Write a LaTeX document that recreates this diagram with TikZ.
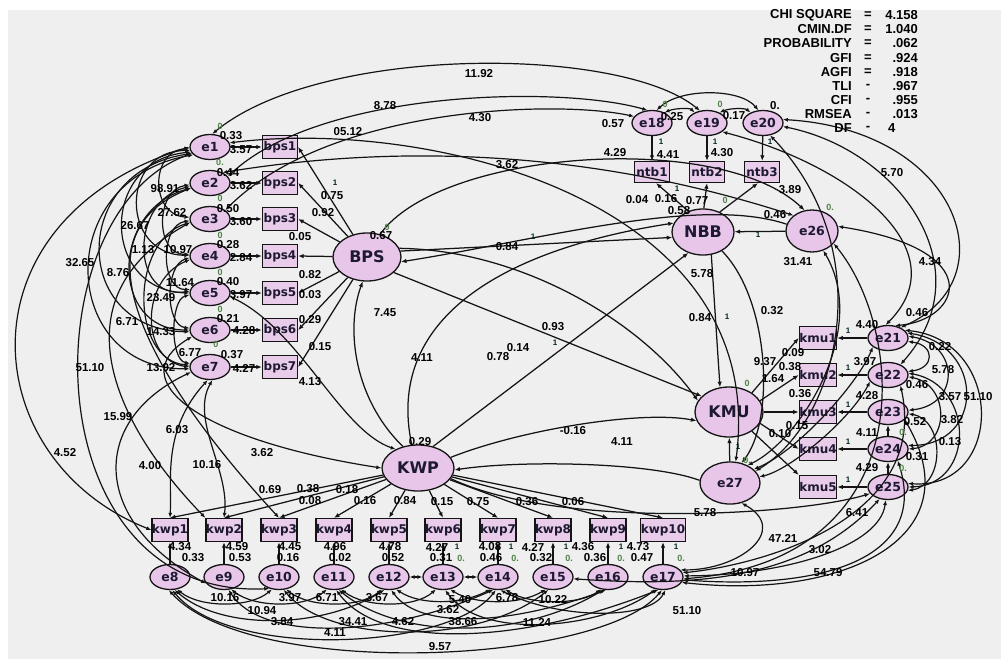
\documentclass[tikz,border=0pt]{standalone}
\usepackage{fontspec}
\setmainfont{Liberation Sans}
\newfontfamily\djv{DejaVu Sans}
\usetikzlibrary{shapes.geometric,arrows.meta}
\definecolor{bggray}{RGB}{239,239,239}
\definecolor{pinkfill}{RGB}{231,198,234}
\definecolor{boxpink}{RGB}{232,204,234}
\definecolor{inktext}{RGB}{30,25,50}
\definecolor{grn}{RGB}{80,130,70}
\definecolor{ln}{RGB}{20,20,20}
\begin{document}
\begin{tikzpicture}[x=1pt,y=-1pt,
  errn/.style={ellipse,draw=ln,line width=1.3pt,fill=pinkfill,minimum width=40pt,minimum height=25pt,inner sep=0pt,font=\djv\bfseries\fontsize{12.5}{12.5}\selectfont,text=inktext},
  obsn/.style={rectangle,draw=ln,line width=1.3pt,fill=boxpink,minimum width=35pt,minimum height=23pt,inner sep=0pt,font=\djv\bfseries\fontsize{12}{12}\selectfont,text=inktext},
  latn/.style={ellipse,draw=ln,line width=1.3pt,fill=pinkfill,minimum width=68pt,minimum height=48pt,inner sep=0pt,font=\djv\bfseries\fontsize{16}{16}\selectfont,text=inktext},
  num/.style={font=\bfseries\fontsize{11.5}{11.5}\selectfont,text=black,inner sep=0pt},
  one/.style={font=\bfseries\fontsize{8}{8}\selectfont,text=black!70!teal,inner sep=0pt},
  zr/.style={font=\bfseries\fontsize{9}{9}\selectfont,text=grn,inner sep=0pt},
  stat/.style={font=\bfseries\fontsize{13}{13}\selectfont,inner sep=0pt},
  arr/.style={draw=ln,line width=1.25pt,-{Latex[length=5.5pt,width=4.5pt]}},
  cov/.style={draw=ln,line width=1.2pt,{Latex[length=5pt,width=4pt]}-{Latex[length=5pt,width=4pt]}}
]
\useasboundingbox (0,0) rectangle (1001,659);
\fill[white] (0,0) rectangle (1001,659);
\fill[bggray] (8,10) rectangle (1001,659);

% ---------- nodes ----------
\foreach \i/\y in {1/147,2/183,3/219,4/256,5/293,6/330,7/367}{
  \node[errn] (e\i) at (210,\y) {e\i};
  \node[obsn] (bps\i) at (280,\y) {bps\i};
}
\node[latn] (BPS) at (367,257) {BPS};
\node[errn] (e18) at (652,123) {e18};
\node[errn] (e19) at (707,123) {e19};
\node[errn] (e20) at (763,123) {e20};
\node[obsn,minimum height=21pt] (ntb1) at (652,172) {ntb1};
\node[obsn,minimum height=21pt] (ntb2) at (707,172) {ntb2};
\node[obsn,minimum height=21pt] (ntb3) at (762,172) {ntb3};
\node[latn,minimum width=62pt,minimum height=46pt] (NBB) at (703,232) {NBB};
\node[errn,minimum width=52pt,minimum height=42pt] (e26) at (812,231) {e26};
\node[latn,minimum height=50pt] (KMU) at (729,412) {KMU};
\node[errn,minimum width=60pt,minimum height=42pt] (e27) at (730,483) {e27};
\foreach \i/\y in {1/338,2/375,3/412,4/449,5/487}{
  \pgfmathtruncatemacro\j{\i+20}
  \node[obsn,minimum width=33pt] (kmu\i) at (818,\y) {kmu\i};
  \node[errn] (e\j) at (888,\y) {e\j};
}
\node[latn,minimum width=72pt,minimum height=46pt] (KWP) at (418,468) {KWP};
\foreach \i/\x in {1/170,2/224,3/279,4/334,5/389,6/443,7/498,8/553,9/608,10/663}{
  \pgfmathtruncatemacro\j{\i+7}
  \node[obsn] (kwp\i) at (\x,530) {kwp\i};
  \node[errn] (e\j) at (\x,577) {e\j};
}

% ---------- regression paths ----------
\foreach \i in {1,...,7}{
  \draw[arr] (e\i) -- (bps\i);
  \draw[arr] (BPS) -- (bps\i.east);
}
\draw[arr] (e18) -- (ntb1);
\draw[arr] (e19) -- (ntb2);
\draw[arr] (e20) -- (ntb3);
\draw[arr] (NBB.125) -- (ntb1.-70);
\draw[arr] (NBB.88) -- (ntb2.south);
\draw[arr] (NBB.50) -- (ntb3.-110);
\draw[arr] (e26) -- (NBB);
\draw[arr] (NBB.-70) -- (KMU.110);
\draw[arr] (e27) -- (KMU);
\foreach \i in {1,...,5}{
  \pgfmathtruncatemacro\j{\i+20}
  \draw[arr] (e\j) -- (kmu\i);
}
\draw[arr] (KMU.40) -- (kmu1.west);
\draw[arr] (KMU.20) -- (kmu2.west);
\draw[arr] (KMU.east) -- (kmu3.west);
\draw[arr] (KMU.-20) -- (kmu4.west);
\draw[arr] (KMU.-40) -- (kmu5.north west);
\foreach \i in {1,...,10}{
  \pgfmathtruncatemacro\j{\i+7}
  \draw[arr] (e\j) -- (kwp\i);
  \draw[arr] (KWP) -- (kwp\i.north);
}
\draw[arr] (BPS.10) -- (NBB.190);
\draw[arr] (e26.165) .. controls (700,195) and (540,240) .. (BPS.-8);
\draw[arr] (BPS.-30) -- (KMU.150);
\draw[arr] (KWP.55) -- (NBB.-125);
\draw[arr] (KWP.125) .. controls (355,400) and (345,330) .. (BPS.-100);
\draw[arr] (KWP.105) .. controls (385,320) and (500,250) .. (NBB.163);
\draw[arr] (BPS.60) .. controls (440,150) and (720,130) .. (e26.110);
\draw[arr] (BPS.15) .. controls (520,250) and (640,320) .. (KMU.160);
\draw[arr] (NBB.-45) .. controls (770,300) and (775,420) .. (e27.60);
\draw[arr] (KWP.18) .. controls (520,430) and (640,410) .. (KMU.195);
\draw[arr] (e27.175) .. controls (650,462) and (520,460) .. (KWP.-3);
\draw[arr] (KWP.-18) .. controls (560,530) and (800,515) .. (e25.200);
\draw[arr] (e24) -- (e23);
\draw[arr] (e25) -- (e24);

% ---------- top arcs ----------
\draw[cov] (e1.80) .. controls (320,45) and (620,45) .. (e19.120);
\draw[cov] (e2.20) .. controls (320,90) and (560,85) .. (e18.110);
\draw[cov] (e3.30) .. controls (330,105) and (560,100) .. (e18.160);
\draw[cov] (e1.12) .. controls (430,118) and (770,200) .. (e27.75);
\draw[cov] (e18.70) .. controls (680,88) and (740,88) .. (e20.110);
\draw[cov] (e18.40) .. controls (675,108) and (690,108) .. (e19.140);
\draw[cov] (e19.40) .. controls (730,108) and (745,108) .. (e20.140);
\draw[cov] (e2.40) .. controls (360,150) and (560,140) .. (e26.140);
\draw[cov] (e20.10) .. controls (960,130) and (1010,280) .. (e21.40);
\draw[cov] (e20.-10) .. controls (900,150) and (985,270) .. (e22.40);
\draw[cov] (e19.-30) .. controls (850,165) and (960,250) .. (e21.100);
\draw[cov] (e20.-60) .. controls (880,250) and (840,420) .. (e27.25);
\draw[cov] (e26.-60) .. controls (870,330) and (800,440) .. (e27.45);
\draw[cov] (e26.-30) .. controls (905,330) and (925,560) .. (e17.-5);
\draw[cov] (e26.10) .. controls (990,250) and (960,320) .. (e21.60);

% ---------- right arcs ----------
\draw[cov] (e21.-10) .. controls (935,345) and (935,368) .. (e22.10);
\draw[cov] (e21.5) .. controls (960,345) and (960,405) .. (e23.5);
\draw[cov] (e21.15) .. controls (985,345) and (985,445) .. (e24.10);
\draw[cov] (e21.25) .. controls (1005,340) and (1005,490) .. (e25.10);
\draw[cov] (e22.-5) .. controls (950,385) and (950,445) .. (e24.0);
\draw[cov] (e22.5) .. controls (975,385) and (975,485) .. (e25.0);
\draw[cov] (e23.-5) .. controls (945,420) and (945,485) .. (e25.-10);
\draw[cov] (e21.-150) .. controls (860,380) and (800,450) .. (e27.30);
\draw[cov] (e22.-160) .. controls (850,420) and (790,470) .. (e27.12);
\draw[cov] (e17.3) .. controls (790,575) and (880,545) .. (e25.-100);
\draw[cov] (e17.-8) .. controls (820,590) and (930,560) .. (e24.-50);
\draw[cov] (e17.-16) .. controls (840,600) and (975,540) .. (e23.-25);
\draw[cov] (e17.12) .. controls (760,565) and (930,520) .. (e22.-40);
\draw[cov] (e27.-60) .. controls (790,530) and (740,570) .. (e17.22);

% ---------- left arcs ----------
\draw[cov] (e1.west) .. controls (-45,220) and (-25,460) .. (kwp1.west);
\draw[cov] (e1.200) .. controls (30,210) and (30,600) .. (e10.-130);
\draw[cov] (e7.195) .. controls (90,420) and (90,520) .. (e9.-160);
\draw[cov] (e3.190) .. controls (50,300) and (120,430) .. (kwp2.north west);
\draw[cov] (e2.195) .. controls (60,240) and (170,400) .. (kwp3.north);
\draw[cov] (e7.-100) .. controls (162,430) and (172,480) .. (kwp1.north);
\draw[cov] (e7.-80) .. controls (190,420) and (230,470) .. (kwp2.north);
\draw[cov] (e6.200) .. controls (120,380) and (200,440) .. (KWP.west);
\draw[cov] (e5.-10) .. controls (300,330) and (340,430) .. (KWP.140);
\draw[cov] (e1.185) .. controls (150,150) and (150,215) .. (e3.175);
\draw[cov] (e1.190) .. controls (120,150) and (120,255) .. (e4.178);
\draw[cov] (e1.195) .. controls (100,160) and (100,290) .. (e5.180);
\draw[cov] (e1.200) .. controls (70,170) and (70,330) .. (e6.185);
\draw[cov] (e1.205) .. controls (50,180) and (60,370) .. (e7.185);
\draw[cov] (e2.185) .. controls (155,190) and (155,255) .. (e4.175);
\draw[cov] (e2.190) .. controls (130,200) and (130,300) .. (e5.175);
\draw[cov] (e2.195) .. controls (110,210) and (110,330) .. (e6.180);
\draw[cov] (e3.185) .. controls (160,225) and (160,290) .. (e5.170);
\draw[cov] (e3.190) .. controls (130,240) and (130,360) .. (e7.175);
\draw[cov] (e4.185) .. controls (165,265) and (165,325) .. (e6.175);
\draw[cov] (e5.185) .. controls (170,300) and (170,360) .. (e7.170);
\draw[cov] (e4.190) .. controls (140,280) and (140,360) .. (e7.180);

% ---------- bottom arcs ----------
\draw[cov] (e8.-60) .. controls (200,608) and (250,608) .. (e10.-120);
\draw[cov] (e9.-60) .. controls (255,608) and (305,608) .. (e11.-120);
\draw[cov] (e10.-60) .. controls (310,608) and (360,608) .. (e12.-120);
\draw[cov] (e11.-60) .. controls (365,608) and (415,608) .. (e13.-120);
\draw[cov] (e8.-70) .. controls (220,630) and (320,630) .. (e12.-110);
\draw[cov] (e9.-70) .. controls (260,640) and (380,640) .. (e14.-110);
\draw[cov] (e10.-70) .. controls (330,645) and (480,645) .. (e15.-110);
\draw[cov] (e11.-70) .. controls (400,640) and (520,640) .. (e16.-110);
\draw[cov] (e8.-80) .. controls (230,660) and (450,650) .. (e14.-100);
\draw[cov] (e12.-60) .. controls (420,605) and (460,605) .. (e14.-120);
\draw[cov] (e13.-60) .. controls (475,605) and (520,605) .. (e15.-120);
\draw[cov] (e14.-60) .. controls (530,605) and (580,605) .. (e16.-120);
\draw[cov] (e12.-80) .. controls (420,630) and (510,625) .. (e16.-100);
\draw[cov] (e11.-80) .. controls (380,650) and (520,645) .. (e17.-110);
\draw[cov] (e13.-80) .. controls (480,640) and (600,630) .. (e17.-120);
\draw[cov] (e8.-95) .. controls (250,680) and (600,665) .. (e17.-95);
\draw[cov] (e14.-80) .. controls (560,620) and (650,620) .. (e17.-80);
\draw[cov] (e12.east) -- (e13.west);
\draw[cov] (e13.east) -- (e14.west);
\draw[cov] (e15.-5) .. controls (680,586) and (800,585) .. (e25.-125);

% ---------- statistics ----------
\foreach \t/\y/\s/\v [count=\k] in {CHI SQUARE/15/=/4.158, CMIN.DF/29/=/1.040, PROBABILITY/43/=/.062, GFI/58/=/.924, AGFI/72/=/.918, TLI/86/-/.967, CFI/100/-/.955, RMSEA/114/-/.013}{
  \node[stat,anchor=east] (sl\k) at (852,\y) {\t};
  \node[stat] (ss\k) at (868,\y) {\s};
  \node[stat,anchor=east] (sv\k) at (918,\y) {\v};
}
\node[stat,anchor=east] (sl9) at (852,128) {DF};
\node[stat] (ss9) at (868,128) {-};
\node[stat,anchor=west] (sv9) at (888,128) {4};

% ---------- numeric labels ----------
\foreach \t/\x/\y [count=\k] in {
 0.33/231/136, 3.57/241/150, 0.44/228/173, 3.62/241/186, 0.50/228/209, 3.60/241/222,
 0.28/228/245, 2.84/241/258, 0.40/228/282, 3.97/241/295, 0.21/228/319, 4.28/244/331,
 0.37/232/355, 4.27/244/368,
 0.75/332/196, 0.92/323/213, 0.05/300/237, 0.67/381/236, 0.82/310/275, 0.03/310/295,
 0.29/310/320, 0.15/320/347, 4.13/310/382, 7.45/385/313,
 98.91/165/189, 27.62/172/213, 26.67/135/226, 1.13/143/250, 10.97/178/250, 32.65/80/263,
 8.76/118/273, 11.64/180/283, 23.49/161/298, 6.71/127/322, 14.33/161/332, 6.77/190/353,
 51.10/90/368, 13.92/161/368, 15.99/118/417, 6.03/177/430, 4.52/65/453, 4.00/150/466,
 10.16/207/465, 3.62/262/453,
 11.92/479/74, 8.78/385/106, 4.30/480/118, 05.12/348/132, 3.62/507/165, 4.29/615/153,
 4.41/668/155, 4.30/722/153, 0.57/613/124, 0.25/672/117, 0.17/734/116, 0./775/106,
 0.04/637/200, 0.16/666/199, 0.58/679/211, 0.77/697/201, 3.89/790/190, 0.46/775/215,
 5.70/892/173, 0.84/507/247,
 0.93/553/327, 0.78/498/357, 0.14/518/348, 4.11/422/358, 5.78/702/274, 0.84/700/318,
 0.32/772/311, 31.41/798/262, 4.34/930/262,
 0.46/917/313, 4.40/867/325, 0.22/940/347, 0.09/793/353, 9.37/765/362, 0.38/790/367,
 1.64/773/379, 3.97/865/362, 5.78/943/370, 0.46/917/385, 0.36/800/394, 4.28/867/396,
 3.57/950/397, 51.10/978/397, 0.15/797/426, 0.52/915/422, 3.82/952/420, 0.10/780/434,
 4.11/867/433, 0.13/950/442, 0.31/917/457, 4.29/867/468,
 0.29/420/442, -0.16/573/431, 4.11/622/442, 0.69/270/490, 0.38/308/489, 0.18/347/490,
 0.08/310/501, 0.16/365/501, 0.84/405/501, 0.15/442/502, 0.75/478/502, 0.36/527/502,
 0.06/573/502, 5.78/705/513,
 4.34/180/547, 4.59/237/547, 4.45/290/547, 4.96/335/547, 4.78/390/547, 4.27/437/547,
 4.08/490/547, 4.27/533/547, 4.36/583/547, 4.73/638/547,
 0.33/193/558, 0.53/240/558, 0.16/288/558, 0.02/340/558, 0.52/393/558, 0.31/441/558,
 0.46/491/558, 0.32/541/558, 0.36/595/558, 0.47/642/558,
 10.16/225/598, 3.97/290/598, 6.71/327/598, 3.67/377/598, 10.94/262/611, 3.84/282/622,
 34.41/353/622, 4.62/403/622, 4.11/335/633, 5.40/460/600, 6.78/507/598, 10.22/553/600,
 3.62/448/610, 38.66/463/622, 11.24/537/622, 51.10/687/611, 9.57/440/647,
 6.41/857/513, 47.21/783/538, 3.02/820/550, 10.97/745/573, 54.79/828/573}{
  \node[num] (lb\k) at (\x,\y) {\t};
}

% ---------- small fixed-parameter marks ----------
\foreach \x/\y [count=\k] in {335/183, 661/142, 715/142, 770/142, 677/189, 533/237, 555/343, 727/317,
  738/447, 758/235, 848/331, 848/368, 848/405, 848/442, 848/480, 457/547, 511/547, 566/547, 621/547, 676/547}{
  \node[one] (on\k) at (\x,\y) {1};
}
\foreach \t/\x/\y [count=\k] in {0/220/126, 0./220/162, 0/220/198, 0/220/235, 0/220/272, 0/220/309, 0/216/344,
  0/387/227, 0/665/104, 0/720/104, 0/725/200, 0./830/207, 0/747/383, 0./747/460, 0./903/432, 0./903/468,
  0./461/558, 0./515/558, 0./569/558, 0./621/558, 0./681/558}{
  \node[zr] (zz\k) at (\x,\y) {\t};
}
\end{tikzpicture}
\end{document}
